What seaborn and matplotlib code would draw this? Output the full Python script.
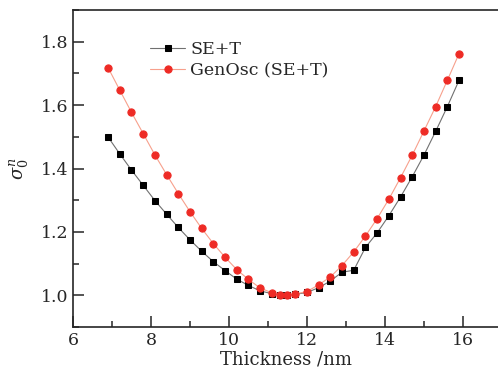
import numpy as np
import pandas as pd
import seaborn as sns
import matplotlib.pyplot as plt
from matplotlib.ticker import MultipleLocator

# espessura (nm)
espessura = [6.9, 7.2, 7.5, 7.8, 8.1, 8.4, 8.7, 9.0, 9.3, 9.6, 9.9, 10.2, 10.5, 10.8, 11.1,
             11.3, 11.5, 11.7, 12.0, 12.3, 12.6, 12.9, 13.2, 13.5, 13.8, 14.1, 14.4, 14.7,
             15.0, 15.3, 15.6, 15.9]

se_t = [1.499, 1.446, 1.395, 1.347, 1.299, 1.256, 1.214, 1.175, 1.139, 1.106, 1.078,
        1.051, 1.031, 1.014, 1.005, 1.000, 1.000, 1.003, 1.009, 1.024, 1.045, 1.073,
        1.079, 1.151, 1.197, 1.251, 1.310, 1.374, 1.442, 1.517, 1.595, 1.678]

genosc = [1.718, 1.647, 1.577, 1.510, 1.443, 1.381, 1.321, 1.264, 1.211, 1.163, 1.120,
          1.081, 1.050, 1.023, 1.008, 1.001, 1.000, 1.004, 1.012, 1.033, 1.058, 1.094,
          1.137, 1.187, 1.242, 1.303, 1.371, 1.442, 1.518, 1.595, 1.678, 1.762]

sns.set_style('ticks')
plt.rcParams['font.family'] = ['DejaVu Serif']
plt.rcParams['mathtext.fontset'] = 'dejavuserif'

fig = plt.figure(figsize=(4.98, 3.77), dpi=100)
ax = fig.add_axes([0.1466, 0.1326, 0.8534, 0.8409])

sns.lineplot(x=espessura, y=se_t, ax=ax, color='#707070', lw=0.8, marker='s',
             markersize=4.3, markerfacecolor='black', markeredgecolor='black',
             label='SE+T')
sns.lineplot(x=espessura, y=genosc, ax=ax, color='#f7a08c', lw=0.8, marker='o',
             markersize=5.2, markerfacecolor='#ee2b25', markeredgecolor='#ee2b25',
             label='GenOsc (SE+T)')

ax.set_xlim(6, 16.9)
ax.set_ylim(0.9, 1.9)
ax.xaxis.set_major_locator(MultipleLocator(2))
ax.xaxis.set_minor_locator(MultipleLocator(1))
ax.yaxis.set_major_locator(MultipleLocator(0.2))
ax.yaxis.set_minor_locator(MultipleLocator(0.1))
ax.yaxis.set_major_formatter(plt.FormatStrFormatter('%.1f'))
ax.tick_params(which='major', direction='in', length=8, width=1.1, labelsize=12.5)
ax.tick_params(which='minor', direction='in', length=4.5, width=1.1)
for s in ['left', 'bottom', 'top']:
    ax.spines[s].set_linewidth(1.2)
ax.spines['right'].set_visible(False)

ax.set_xlabel('Thickness /nm', fontsize=13, labelpad=1)
ax.set_ylabel(r'$\sigma_0^n$', fontsize=13, labelpad=7)

leg = ax.legend(loc='upper left', bbox_to_anchor=(0.145, 0.95), frameon=False,
                fontsize=12.5, handlelength=2.0, handletextpad=0.3, labelspacing=0.2)

fig.savefig('out.png', dpi=100)
